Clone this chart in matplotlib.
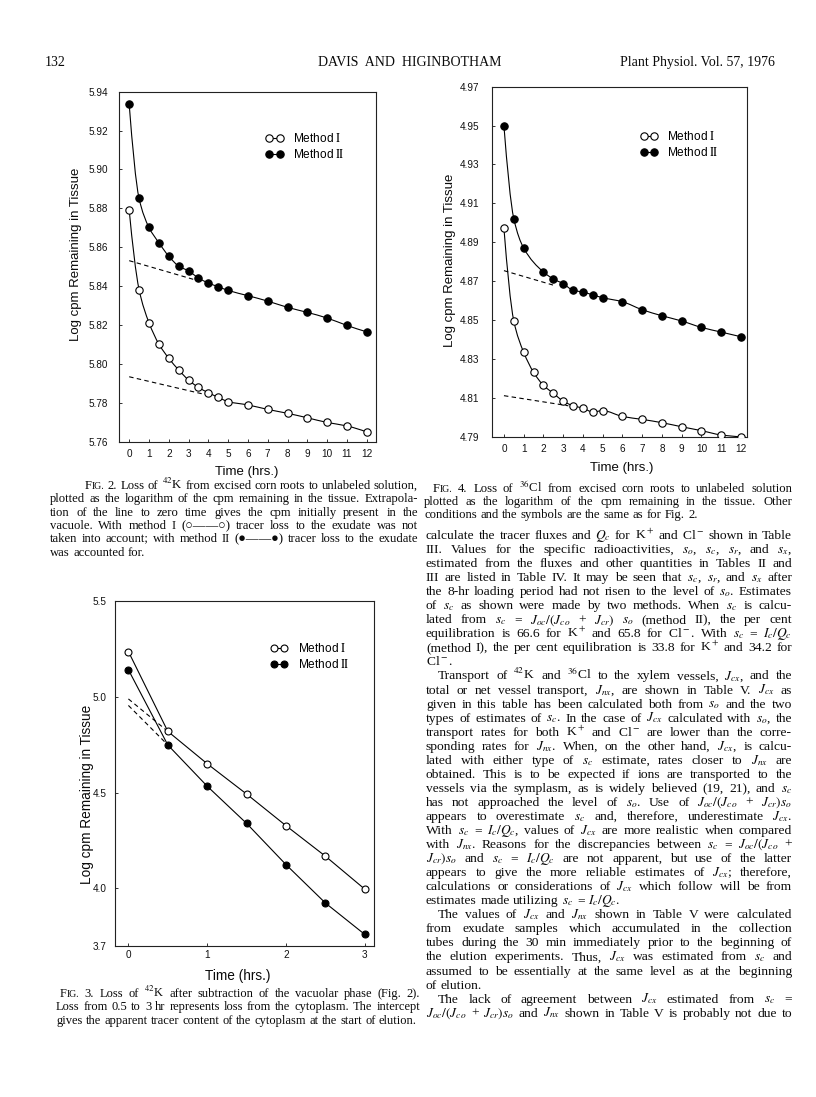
import matplotlib
matplotlib.use("Agg")
import matplotlib.pyplot as plt
from matplotlib.lines import Line2D
from matplotlib.path import Path
from matplotlib.patches import PathPatch

plt.rcParams['mathtext.fontset'] = 'stix'
plt.rcParams['font.family'] = ['Liberation Sans', 'DejaVu Sans']

W, H, DPI = 816, 1097, 100
SERIF = ['Liberation Serif', 'DejaVu Serif']
SANS = ['Liberation Sans', 'DejaVu Sans']

# ---------------- data ----------------
# Fig. 2  (42K)
k_time = [0, 0.5, 1, 1.5, 2, 2.5, 3, 3.5, 4, 4.5, 5, 6, 7, 8, 9, 10, 11, 12]
k_method1 = [5.8791, 5.8382, 5.8212, 5.8102, 5.8029, 5.7969, 5.7917, 5.7879, 5.7852,
             5.7828, 5.7806, 5.7789, 5.7766, 5.7746, 5.7723, 5.7699, 5.7681, 5.7650]
k_method2 = [5.9335, 5.8851, 5.8702, 5.8623, 5.8554, 5.8503, 5.8478, 5.8442, 5.8416,
             5.8397, 5.8378, 5.8351, 5.8323, 5.8291, 5.8265, 5.8236, 5.8198, 5.8165]
k_dash1_time = [0, 3.74]
k_dash1 = [5.7934, 5.7845]
k_dash2_time = [0, 3.24]
k_dash2 = [5.8531, 5.8435]
k_yticks = [5.76, 5.78, 5.80, 5.82, 5.84, 5.86, 5.88, 5.90, 5.92, 5.94]
k_xticks = [0, 1, 2, 3, 4, 5, 6, 7, 8, 9, 10, 11, 12]

# Fig. 4  (36Cl)
cl_time1 = [0, 0.5, 1, 1.5, 2, 2.5, 3, 3.5, 4, 4.5, 5, 6, 7, 8, 9, 10, 11, 12]
cl_method1 = [4.8971, 4.8495, 4.8334, 4.8231, 4.8164, 4.8123, 4.8083, 4.8059, 4.8047,
              4.8027, 4.8034, 4.8004, 4.7989, 4.7972, 4.7951, 4.7931, 4.7909, 4.7900]
cl_time2 = [0, 0.5, 1, 2, 2.5, 3, 3.5, 4, 4.5, 5, 6, 7, 8, 9, 10, 11, 12]
cl_method2 = [4.9498, 4.9021, 4.8870, 4.8747, 4.8711, 4.8687, 4.8653, 4.8644, 4.8629,
              4.8615, 4.8594, 4.8553, 4.8522, 4.8495, 4.8462, 4.8438, 4.8414]
cl_dash1_time = [0, 3.26]
cl_dash1 = [4.8111, 4.8059]
cl_dash2_time = [0, 2.58]
cl_dash2 = [4.8754, 4.8677]
cl_yticks = [4.79, 4.81, 4.83, 4.85, 4.87, 4.89, 4.91, 4.93, 4.95, 4.97]
cl_xticks = [0, 1, 2, 3, 4, 5, 6, 7, 8, 9, 10, 11, 12]

# Fig. 3  (42K, cytoplasmic phase)
c_time = [0, 0.5, 1, 1.5, 2, 2.5, 3]
c_method1 = [5.235, 4.819, 4.650, 4.492, 4.327, 4.168, 3.996]
c_method2 = [5.140, 4.748, 4.533, 4.339, 4.124, 3.924, 3.760]
c_dash_time = [0, 0.5]
c_dash1 = [4.988, 4.819]
c_dash2 = [4.954, 4.748]
c_yticks = [3.7, 4.0, 4.5, 5.0, 5.5]
c_yticklabels = ['3.7', '4.0', '4.5', '5.0', '5.5']
c_xticks = [0, 1, 2, 3]

labels = ['Method $\\mathrm{I}$', 'Method $\\mathrm{I\\!I}$']

# ---------------- text ----------------
header_left = '132'
header_mid = 'DAVIS  AND  HIGINBOTHAM'
header_right = 'Plant Physiol. Vol. 57, 1976'

cap2 = ["FIG. 2. Loss of $^{42}$K from excised corn roots to unlabeled solution,",
        "plotted as the logarithm of the cpm remaining in the tissue. Extrapola-",
        "tion of the line to zero time gives the cpm initially present in the",
        "vacuole. With method I (\u25cb\u2014\u2014\u25cb) tracer loss to the exudate was not",
        "taken into account; with method II (\u25cf\u2014\u2014\u25cf) tracer loss to the exudate",
        "was accounted for."]
cap4 = ["FIG. 4. Loss of $^{36}$Cl from excised corn roots to unlabeled solution",
        "plotted as the logarithm of the cpm remaining in the tissue. Other",
        "conditions and the symbols are the same as for Fig. 2."]
cap3 = ["FIG. 3. Loss of $^{42}$K after subtraction of the vacuolar phase (Fig. 2).",
        "Loss from 0.5 to 3 hr represents loss from the cytoplasm. The intercept",
        "gives the apparent tracer content of the cytoplasm at the start of elution."]

body = [
    (0, "calculate the tracer fluxes and $Q_c$ for K$^+$ and Cl$^-$ shown in Table"),
    (0, "III. Values for the specific radioactivities, $s_o$, $s_c$, $s_r$, and $s_x$,"),
    (0, "estimated from the fluxes and other quantities in Tables II and"),
    (0, "III are listed in Table IV. It may be seen that $s_c$, $s_r$, and $s_x$ after"),
    (0, "the 8-hr loading period had not risen to the level of $s_o$. Estimates"),
    (0, "of $s_c$ as shown were made by two methods. When $s_c$ is calcu-"),
    (0, "lated from $s_c$ = $J_{oc}/(J_{co}$ + $J_{cr})$ $s_o$ (method II), the per cent"),
    (0, "equilibration is 66.6 for K$^+$ and 65.8 for Cl$^-$. With $s_c$ = $I_c/Q_c$"),
    (0, "(method I), the per cent equilibration is 33.8 for K$^+$ and 34.2 for"),
    (2, "Cl$^-$."),
    (1, "Transport of $^{42}$K and $^{36}$Cl to the xylem vessels, $J_{cx}$, and the"),
    (0, "total or net vessel transport, $J_{nx}$, are shown in Table V. $J_{cx}$ as"),
    (0, "given in this table has been calculated both from $s_o$ and the two"),
    (0, "types of estimates of $s_c$. In the case of $J_{cx}$ calculated with $s_o$, the"),
    (0, "transport rates for both K$^+$ and Cl$^-$ are lower than the corre-"),
    (0, "sponding rates for $J_{nx}$. When, on the other hand, $J_{cx}$, is calcu-"),
    (0, "lated with either type of $s_c$ estimate, rates closer to $J_{nx}$ are"),
    (0, "obtained. This is to be expected if ions are transported to the"),
    (0, "vessels via the symplasm, as is widely believed (19, 21), and $s_c$"),
    (0, "has not approached the level of $s_o$. Use of $J_{oc}/(J_{co}$ + $J_{cr})s_o$"),
    (0, "appears to overestimate $s_c$ and, therefore, underestimate $J_{cx}$."),
    (0, "With $s_c$ = $I_c/Q_c$, values of $J_{cx}$ are more realistic when compared"),
    (0, "with $J_{nx}$. Reasons for the discrepancies between $s_c$ = $J_{oc}/(J_{co}$ +"),
    (0, "$J_{cr})s_o$ and $s_c$ = $I_c/Q_c$ are not apparent, but use of the latter"),
    (0, "appears to give the more reliable estimates of $J_{cx}$; therefore,"),
    (0, "calculations or considerations of $J_{cx}$ which follow will be from"),
    (2, "estimates made utilizing $s_c$ = $I_c/Q_c$."),
    (1, "The values of $J_{cx}$ and $J_{nx}$ shown in Table V were calculated"),
    (0, "from exudate samples which accumulated in the collection"),
    (0, "tubes during the 30 min immediately prior to the beginning of"),
    (0, "the elution experiments. Thus, $J_{cx}$ was estimated from $s_c$ and"),
    (0, "assumed to be essentially at the same level as at the beginning"),
    (2, "of elution."),
    (1, "The lack of agreement between $J_{cx}$ estimated from $s_c$ ="),
    (0, "$J_{oc}/(J_{co}$ + $J_{cr})s_o$ and $J_{nx}$ shown in Table V is probably not due to"),
]

# ---------------- figure ----------------
fig = plt.figure(figsize=(W / DPI, H / DPI), dpi=DPI)
fig.patch.set_facecolor('white')
renderer = fig.canvas.get_renderer()
INK = '#0a0a0a'


def fx(x):
    return x / W


def fy(y):
    return 1 - y / H


def measure(s, size):
    t = fig.text(0, 0, s, fontsize=size, family=SERIF)
    w = t.get_window_extent(renderer).width
    t.remove()
    return w


def parts_of(tok, size):
    if tok == 'FIG.':
        return [('F', size), ('IG.', size * 0.78)]
    return [(tok, size)]


def draw_line(text, x0, x1, yb, size, justify):
    words = text.split(' ')
    parts = [parts_of(w, size) for w in words]
    widths = [sum(measure(s, sz) for s, sz in p) for p in parts]
    em = size * DPI / 72.0
    if justify and len(words) > 1:
        gap = (x1 - x0 - sum(widths)) / (len(words) - 1)
        gap = max(gap, 0.2 * em)
    else:
        gap = 0.26 * em
    x = x0
    for p, w in zip(parts, widths):
        xx = x
        for s, sz in p:
            fig.text(fx(xx), fy(yb), s, fontsize=sz, family=SERIF,
                     ha='left', va='baseline', color=INK)
            xx += measure(s, sz)
        x += w + gap


def draw_caption(lines, x0, x1, first_x, y0, dy, size):
    for i, ln in enumerate(lines):
        last = (i == len(lines) - 1)
        draw_line(ln, first_x if i == 0 else x0, x1, y0 + i * dy, size, not last)


def make_axes(left, top, right, bottom):
    ax = fig.add_axes([fx(left), fy(bottom), (right - left) / W, (bottom - top) / H])
    for sp in ax.spines.values():
        sp.set_linewidth(0.8)
        sp.set_color('#222222')
    ax.tick_params(direction='in', length=2.5, width=0.6, colors='#111111',
                   labelsize=7.2)
    return ax


def smooth_curve(ax, t, v):
    # monotone cubic (PCHIP) connection through the data points, drawn as Bezier path
    n = len(t)
    h = [t[i + 1] - t[i] for i in range(n - 1)]
    d = [(v[i + 1] - v[i]) / h[i] for i in range(n - 1)]
    m = [0.0] * n
    for i in range(1, n - 1):
        if d[i - 1] * d[i] <= 0:
            m[i] = 0.0
        else:
            w1 = 2 * h[i] + h[i - 1]
            w2 = h[i] + 2 * h[i - 1]
            m[i] = (w1 + w2) / (w1 / d[i - 1] + w2 / d[i])

    def endslope(h0, h1, d0, d1):
        s = ((2 * h0 + h1) * d0 - h0 * d1) / (h0 + h1)
        if s * d0 <= 0:
            return 0.0
        if d0 * d1 <= 0 and abs(s) > abs(3 * d0):
            return 3 * d0
        return s
    m[0] = endslope(h[0], h[1], d[0], d[1])
    m[-1] = endslope(h[-1], h[-2], d[-1], d[-2])
    verts = [(t[0], v[0])]
    codes = [Path.MOVETO]
    for i in range(n - 1):
        verts += [(t[i] + h[i] / 3, v[i] + m[i] * h[i] / 3),
                  (t[i + 1] - h[i] / 3, v[i + 1] - m[i + 1] * h[i] / 3),
                  (t[i + 1], v[i + 1])]
        codes += [Path.CURVE4] * 3
    ax.add_patch(PathPatch(Path(verts, codes), fill=False, lw=0.8,
                           edgecolor='black', zorder=2.5))


def plot_points(ax, t, v, filled, ms):
    ax.plot(t, v, ls='none', marker='o', ms=ms,
            mfc='black' if filled else 'white', mec='black', mew=0.8, zorder=3)


def add_legend(ax, ax_x, ax_y, ms):
    h = [Line2D([], [], color='black', lw=0.8, marker='o', ms=ms, mfc='white',
                mec='black', mew=0.8),
         Line2D([], [], color='black', lw=0.8, marker='o', ms=ms, mfc='black',
                mec='black', mew=0.8)]
    ax.legend(h, labels, loc='upper left', bbox_to_anchor=(ax_x, ax_y),
              frameon=False, numpoints=2, handlelength=1.5, handletextpad=0.8,
              borderpad=0, borderaxespad=0, labelspacing=0.28,
              prop={'family': SANS, 'size': 8.6})


DASH = (0, (4, 3))

# ----- Fig. 2 -----
ax2 = make_axes(119.3, 91.7, 376, 441.7)
ax2.plot(k_dash2_time, k_dash2, color='black', lw=0.8, ls=DASH, zorder=2)
ax2.plot(k_dash1_time, k_dash1, color='black', lw=0.8, ls=DASH, zorder=2)
smooth_curve(ax2, k_time, k_method1)
smooth_curve(ax2, k_time, k_method2)
plot_points(ax2, k_time, k_method1, False, 5.3)
plot_points(ax2, k_time, k_method2, True, 5.3)
ax2.set_xlim(-0.5, 12.47)
ax2.set_ylim(5.76, 5.94)
ax2.set_yticks(k_yticks)
ax2.set_yticklabels(['%.2f' % v for v in k_yticks], family=SANS)
ax2.set_xticks(k_xticks)
ax2.set_xticklabels([str(v) for v in k_xticks], family=SANS)
ax2.tick_params(axis='y', pad=8)
ax2.tick_params(axis='x', pad=5)
add_legend(ax2, 0.57, 0.885, 5.3)
fig.text(fx(76), fy(254), 'Log cpm Remaining in Tissue', rotation=90,
         ha='center', va='center', fontsize=9.5, family=SANS, color=INK)
fig.text(fx(247), fy(471.5), 'Time (hrs.)', ha='center', va='center',
         fontsize=9.5, family=SANS, color=INK)

# ----- Fig. 4 -----
ax4 = make_axes(491.7, 86.7, 747.3, 436.7)
ax4.plot(cl_dash2_time, cl_dash2, color='black', lw=0.8, ls=DASH, zorder=2)
ax4.plot(cl_dash1_time, cl_dash1, color='black', lw=0.8, ls=DASH, zorder=2)
smooth_curve(ax4, cl_time1, cl_method1)
smooth_curve(ax4, cl_time2, cl_method2)
plot_points(ax4, cl_time1, cl_method1, False, 5.3)
plot_points(ax4, cl_time2, cl_method2, True, 5.3)
ax4.set_xlim(-0.62, 12.32)
ax4.set_ylim(4.79, 4.97)
ax4.set_yticks(cl_yticks)
ax4.set_yticklabels(['%.2f' % v for v in cl_yticks], family=SANS)
ax4.set_xticks(cl_xticks)
ax4.set_xticklabels([str(v) for v in cl_xticks], family=SANS)
ax4.tick_params(axis='y', pad=9)
ax4.tick_params(axis='x', pad=5)
add_legend(ax4, 0.58, 0.876, 5.3)
fig.text(fx(450), fy(260), 'Log cpm Remaining in Tissue', rotation=90,
         ha='center', va='center', fontsize=9.5, family=SANS, color=INK)
fig.text(fx(621.7), fy(467.7), 'Time (hrs.)', ha='center', va='center',
         fontsize=9.5, family=SANS, color=INK)

# ----- Fig. 3 -----
ax3 = make_axes(115, 600.7, 374.3, 946)
ax3.plot(c_dash_time, c_dash1, color='black', lw=0.8, ls=DASH, zorder=2)
ax3.plot(c_dash_time, c_dash2, color='black', lw=0.8, ls=DASH, zorder=2)
ax3.plot(c_time, c_method1, color='black', lw=0.8, zorder=2.5)
ax3.plot(c_time, c_method2, color='black', lw=0.8, zorder=2.5)
plot_points(ax3, c_time, c_method1, False, 5.0)
plot_points(ax3, c_time, c_method2, True, 5.0)
ax3.set_xlim(-0.17, 3.12)
ax3.set_ylim(3.7, 5.5)
ax3.set_yticks(c_yticks)
ax3.set_yticklabels(c_yticklabels, family=SANS)
ax3.set_xticks(c_xticks)
ax3.set_xticklabels([str(v) for v in c_xticks], family=SANS)
ax3.tick_params(axis='y', pad=6)
ax3.tick_params(axis='x', pad=3)
add_legend(ax3, 0.598, 0.88, 5.0)
fig.text(fx(86.7), fy(794), 'Log cpm Remaining in Tissue', rotation=90,
         ha='center', va='center', fontsize=9.8, family=SANS, color=INK)
fig.text(fx(238), fy(976), 'Time (hrs.)', ha='center', va='center',
         fontsize=9.8, family=SANS, color=INK)

# ----- header -----
fig.text(fx(45), fy(66), header_left, ha='left', va='baseline', fontsize=10,
         family=SERIF, color=INK)
fig.text(fx(409.5), fy(66), header_mid, ha='center', va='baseline', fontsize=10,
         family=SERIF, color=INK)
fig.text(fx(775), fy(66), header_right, ha='right', va='baseline', fontsize=10,
         family=SERIF, color=INK)

# ----- captions -----
draw_caption(cap2, 50, 418, 85, 489, 13.3, 9.1)
draw_caption(cap4, 424, 792, 433, 492.5, 12.8, 9.1)
draw_caption(cap3, 56, 420, 60, 997, 13.3, 9.0)

# ----- body text (right column) -----
y = 539
for kind, ln in body:
    x0 = 438 if kind == 1 else 426
    draw_line(ln, x0, 792, y, 9.7, kind != 2)
    y += 14.05

fig.savefig('out.png', dpi=DPI, facecolor='white')
